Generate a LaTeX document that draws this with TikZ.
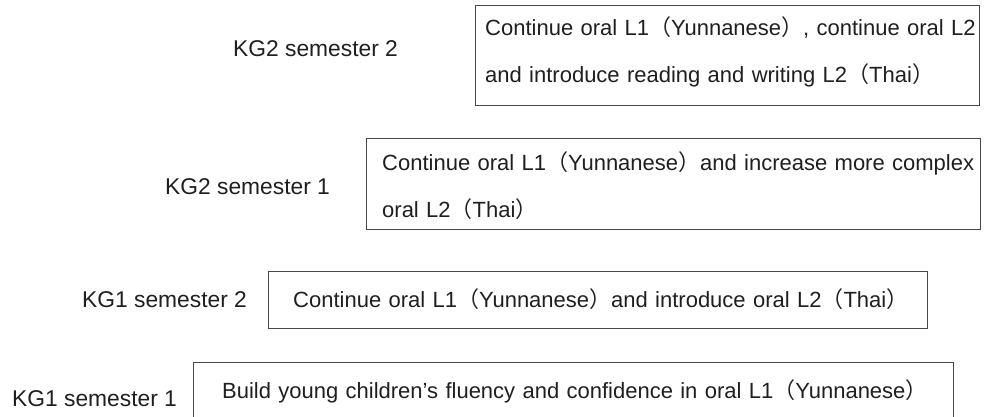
\documentclass[tikz,border=0pt]{standalone}
\usepackage{fontspec}
\setmainfont{Liberation Sans}
\newfontfamily\cjk{Noto Sans CJK SC}
\newcommand{\lpar}{{\cjk （}}
\newcommand{\rpar}{{\cjk ）}}
\begin{document}
\begin{tikzpicture}[x=1pt,y=-1pt,
	lbl/.style={anchor=base west, inner sep=0pt, text=black!88, font=\fontsize{22.8}{27}\selectfont},
	txt/.style={anchor=base west, inner sep=0pt, text=black!88, text width=900pt, align=left, font=\fontsize{22}{47}\selectfont},
	stagebox/.style={draw=black!72, line width=1.3pt, anchor=north west, inner sep=0pt}]
	\useasboundingbox (0,0) rectangle (985,416);
	\clip (0,0) rectangle (985,416);
	% KG2, semester 2
	\node[lbl] (kg22) at (233,56) {KG2 semester 2};
	\node[stagebox, minimum width=504pt, minimum height=100pt] (box22) at (475,5) {};
	\node[txt] (txt22) at (485,35) {Continue oral L1\lpar Yunnanese\rpar, continue oral L2\\and introduce reading and writing L2\lpar Thai\rpar};
	% KG2, semester 1
	\node[lbl] (kg21) at (165,194) {KG2 semester 1};
	\node[stagebox, minimum width=614pt, minimum height=91pt] (box21) at (366,138) {};
	\node[txt] (txt21) at (382,170) {Continue oral L1\lpar Yunnanese\rpar and increase more complex\\oral L2\lpar Thai\rpar};
	% KG1, semester 2
	\node[lbl] (kg12) at (82,307) {KG1 semester 2};
	\node[stagebox, minimum width=659pt, minimum height=57pt] (box12) at (268,271) {};
	\node[txt] (txt12) at (293,307) {Continue oral L1\lpar Yunnanese\rpar and introduce oral L2\lpar Thai\rpar};
	% KG1, semester 1 (box runs off the bottom)
	\node[lbl] (kg11) at (12,406) {KG1 semester 1};
	\node[stagebox, minimum width=760pt, minimum height=80pt] (box11) at (193,362) {};
	\node[txt] (txt11) at (222,398) {Build young children’s fluency and confidence in oral L1\lpar Yunnanese\rpar};
\end{tikzpicture}
\end{document}
